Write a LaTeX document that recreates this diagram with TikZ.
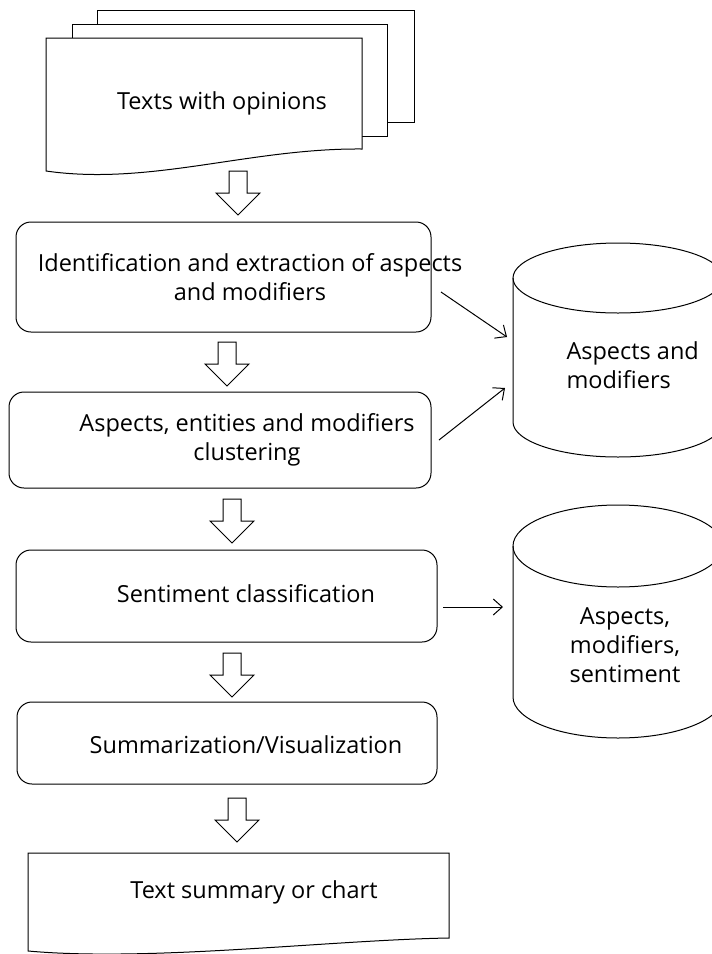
\documentclass[tikz,border=0pt]{standalone}
\usepackage{fontspec}
\setmainfont{Open Sans}
\usetikzlibrary{arrows,arrows.meta,calc,positioning}

\tikzset{
  stepbox/.style={draw, rounded corners=15pt, inner sep=0pt},
  txt/.style={font=\fontsize{23.5}{29}\selectfont, align=center, inner sep=0pt},
  page/.style={draw, fill=white},
  flow/.style={-{Straight Barb[length=9pt, width=16pt]}},
  blockarrow/.pic={\draw (-9,0) -- (9,0) -- (9,22) -- (22,22) -- (0,44) -- (-22,22) -- (-9,22) -- cycle;}
}

\begin{document}
\begin{tikzpicture}[x=1pt, y=-1pt, line width=1pt]
\useasboundingbox (0,0) rectangle (712,954);

% stack of input texts
\draw[page] (97,10) rectangle (414,122);
\draw[page] (72,24) rectangle (387,136);
\draw[page] (46,38) -- (362,38) -- (362,149) .. controls (250,148) and (150,186) .. (46,171) -- cycle;
\node[txt] (texts) at (222,103) {Texts with opinions};

\pic at (238,171) {blockarrow};

% processing steps
\node[stepbox, minimum width=415pt, minimum height=110pt] (ident) at (223.5,277) {};
\node[txt] (identtxt) at (250,277) {Identification and extraction of aspects\\and modifiers};

\pic at (227,342) {blockarrow};

\node[stepbox, minimum width=422pt, minimum height=96pt] (clust) at (220,440) {};
\node[txt] (clusttxt) at (247,440) {Aspects, entities and modifiers\\clustering};

\pic at (232,499) {blockarrow};

\node[stepbox, minimum width=421pt, minimum height=92pt] (senti) at (226.5,596) {};
\node[txt] (sentitxt) at (246,594) {Sentiment classification};

\pic at (232,653) {blockarrow};

\node[stepbox, minimum width=420pt, minimum height=82pt] (summ) at (227,743) {};
\node[txt] (summtxt) at (246,745) {Summarization/Visualization};

\pic at (237,798) {blockarrow};

% output
\draw (28,853) -- (449,853) -- (449,938) .. controls (330,940) and (150,962) .. (28,951) -- cycle;
\node[txt] (summary) at (254,892) {Text summary or chart};

% databases
\draw (513,278) -- (513,422) arc[start angle=180, end angle=0, x radius=105, y radius=35] -- (723,278);
\draw (618,278) ellipse[x radius=105, y radius=35];
\node[txt, align=left, anchor=west] (aspdb) at (566,365) {Aspects and\\modifiers};

\draw (513,546) -- (513,697) arc[start angle=180, end angle=0, x radius=105, y radius=41] -- (723,546);
\draw (618,546) ellipse[x radius=105, y radius=41];
\node[txt] (sentdb) at (625,645) {Aspects,\\modifiers,\\sentiment};

% connectors
\coordinate (f1s) at (441,292);
\coordinate (f1e) at (507,337);
\coordinate (f2s) at (439,440);
\coordinate (f2e) at (505,388);
\coordinate (f3s) at (443,607);
\coordinate (f3e) at (503,607);
\draw[flow] (f1s) -- (f1e);
\draw[flow] (f2s) -- (f2e);
\draw[flow] (f3s) -- (f3e);

\end{tikzpicture}
\end{document}
